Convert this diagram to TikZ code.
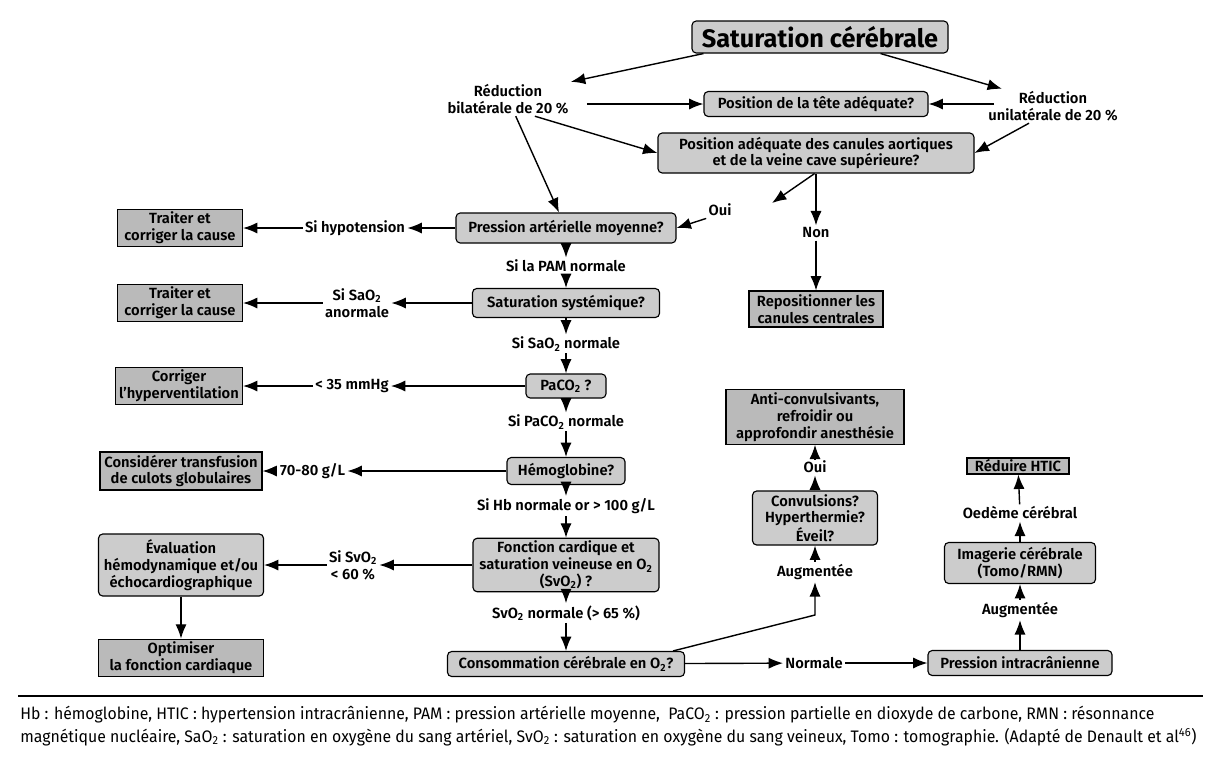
\documentclass[tikz,border=0pt]{standalone}
\usepackage{fontspec}
\setmainfont{Fira Sans}[UprightFont={* SemiBold}, BoldFont={* Bold}]
\newfontfamily\legfont{Fira Sans}[FakeStretch=0.95]
\usetikzlibrary{arrows.meta}
\definecolor{qgray}{gray}{0.80}
\definecolor{agray}{gray}{0.73}
\newcommand{\subtwo}{\textsubscript{2}}

\begin{document}
\begin{tikzpicture}[x=0.25mm, y=-0.25mm, >={Latex[length=3.6mm,width=2.8mm]},
    every node/.style={font=\fontsize{10.5}{12}\selectfont},
    question/.style={draw, rounded corners=3pt, fill=qgray, line width=0.8pt, align=center, inner sep=2pt},
    action/.style={draw, fill=agray, line width=0.8pt, align=center, inner sep=2pt},
    cond/.style={align=center, inner sep=1.5pt},
    link/.style={->, line width=1pt}]
    \useasboundingbox (0,0) rectangle (1218,756);

    % top
    \node[question, minimum width=64mm, minimum height=8mm, font=\fontsize{18}{20}\selectfont\bfseries] (title) at (820,37) {Saturation cérébrale};
    \node[cond] (bilat) at (508,99) {Réduction\\bilatérale de 20 \%};
    \node[cond] (unilat) at (1053,106) {Réduction\\unilatérale de 20 \%};
    \node[question, minimum width=56mm, minimum height=6.25mm] (tete) at (816,104) {Position de la tête adéquate?};
    \node[question, minimum width=79mm, minimum height=10mm] (canules) at (816,153) {Position adéquate des canules aortiques\\et de la veine cave supérieure?};
    \node[cond] (oui1) at (720,210) {Oui};
    \coordinate (ouitip) at (772,203);
    \node[cond] (non) at (816,233) {Non};
    \node[action, minimum width=33.5mm, minimum height=9mm] (repos) at (816,309) {Repositionner les\\canules centrales};

    % center column
    \node[question, minimum width=55mm, minimum height=7.5mm] (pam) at (566,228) {Pression artérielle moyenne?};
    \node[cond] (pamok) at (566,266) {Si la PAM normale};
    \node[question, minimum width=46.75mm, minimum height=7.25mm] (sat) at (566,303) {Saturation systémique?};
    \node[cond] (saook) at (566,344) {Si SaO\subtwo{} normale};
    \node[question, minimum width=20mm, minimum height=6mm] (paco) at (566,386) {PaCO\subtwo{} ?};
    \node[cond] (pacook) at (566,422) {Si PaCO\subtwo{} normale};
    \node[question, minimum width=29.5mm, minimum height=6.75mm] (hemo) at (566,471) {Hémoglobine?};
    \node[cond] (hbok) at (566,506) {Si Hb normale or > 100 g/L};
    \node[question, minimum width=46.5mm, minimum height=13.25mm] (fonc) at (566,565) {Fonction cardique et\\saturation veineuse en O\subtwo\\(SvO\subtwo) ?};
    \node[cond] (svook) at (566,613) {SvO\subtwo{} normale (> 65 \%)};
    \node[question, minimum width=59.25mm, minimum height=6.25mm] (conso) at (566,664) {Consommation cérébrale en O\subtwo?};

    % left column
    \node[cond] (hypo) at (355,228) {Si hypotension};
    \node[action, minimum width=31.25mm, minimum height=9.25mm] (traiter1) at (180,228) {Traiter et\\corriger la cause};
    \node[cond] (saoko) at (357,303) {Si SaO\subtwo\\anormale};
    \node[action, minimum width=31.25mm, minimum height=9mm] (traiter2) at (180,303) {Traiter et\\corriger la cause};
    \node[cond] (lt35) at (352,386) {< 35 mmHg};
    \node[action, minimum width=31.75mm, minimum height=7.5mm] (corriger) at (179,386) {Corriger\\l’hyperventilation};
    \node[cond] (lt70) at (307,471) {< 70-80 g/L};
    \node[action, minimum width=40.5mm, minimum height=8.75mm] (transf) at (181,471) {Considérer transfusion\\de culots globulaires};
    \node[cond] (svolow) at (353,565) {Si SvO\subtwo\\< 60 \%};
    \node[question, minimum width=41.25mm, minimum height=15.5mm] (evalu) at (181,565) {Évaluation\\hémodynamique et/ou\\échocardiographique};
    \node[action, minimum width=41.25mm, minimum height=9.25mm] (optim) at (181,658) {Optimiser\\la fonction cardiaque};

    % right part
    \node[cond] (normale) at (814,663) {Normale};
    \node[question, minimum width=46mm, minimum height=6.25mm] (pic) at (1020,663) {Pression intracrânienne};
    \node[cond] (aug2) at (1020,610) {Augmentée};
    \node[question, minimum width=37.75mm, minimum height=10.25mm] (imag) at (1020,563) {Imagerie cérébrale\\(Tomo/RMN)};
    \node[cond] (oedeme) at (1020,513) {Oedème cérébral};
    \node[action, minimum width=25.5mm, minimum height=4mm, inner sep=1pt] (htic) at (1018,466) {Réduire HTIC};
    \coordinate (bend) at (815,615);
    \node[cond] (aug1) at (815,572) {Augmentée};
    \node[question, minimum width=31.25mm, minimum height=13.5mm] (conv) at (815,518) {Convulsions?\\Hyperthermie?\\Éveil?};
    \node[cond] (oui2) at (815,467) {Oui};
    \node[action, minimum width=44.5mm, minimum height=12.75mm] (anti) at (815,417) {Anti-convulsivants,\\refroidir ou\\approfondir anesthésie};

    % connectors
    \draw[link] ([xshift=3mm]title.south west) -- (bilat.north east);
    \draw[link] ([xshift=-17mm]title.south east) -- ([xshift=4mm]unilat.north west);
    \draw[link] ([xshift=4mm]bilat.east |- tete.west) -- (tete.west);
    \draw[link] ([xshift=2mm]unilat.west |- tete.east) -- (tete.east);
    \draw[link] ([xshift=-9mm]bilat.south east) -- (canules.west);
    \draw[link] ([xshift=-6mm]unilat.south) -- (canules.east);
    \draw[link] (bilat) -- (pam);
    \draw[link] ([xshift=-1pt]canules.south) -- (ouitip);
    \draw[link] (oui1.south west) -- (pam.east);
    \draw[link] (canules) -- (non);
    \draw[link] ([xshift=-3mm]conso.north east) -- (bend) -- (aug1);

    \foreach \a/\b in {pam/hypo, hypo/traiter1, sat/saoko, saoko/traiter2, paco/lt35, lt35/corriger,
                       hemo/lt70, lt70/transf, fonc/svolow, svolow/evalu, evalu/optim, non/repos}
        \draw[link] (\a) -- (\b);

    \foreach \a/\b in {pam/pamok, pamok/sat, sat/saook, saook/paco, paco/pacook, pacook/hemo,
                       hemo/hbok, hbok/fonc, fonc/svook, svook/conso, conso/normale, normale/pic,
                       pic/aug2, aug2/imag, imag/oedeme, oedeme/htic, aug1/conv, conv/oui2, oui2/anti}
        \draw[link] (\a) -- (\b);

    % legend
    \draw[line width=1.3pt] (18,696) -- (1203,696);
    \node[anchor=north west, align=left, inner sep=0pt, font=\legfont\fontsize{11.85}{16}\selectfont] (legend) at (20,706)
        {Hb : hémoglobine, HTIC : hypertension intracrânienne, PAM : pression artérielle moyenne,\ \ PaCO\subtwo{} : pression partielle en dioxyde de carbone, RMN : résonnance\\
         magnétique nucléaire, SaO\subtwo{} : saturation en oxygène du sang artériel, SvO\subtwo{} : saturation en oxygène du sang veineux, Tomo : tomographie. (Adapté de Denault et al\textsuperscript{46})};
\end{tikzpicture}
\end{document}
